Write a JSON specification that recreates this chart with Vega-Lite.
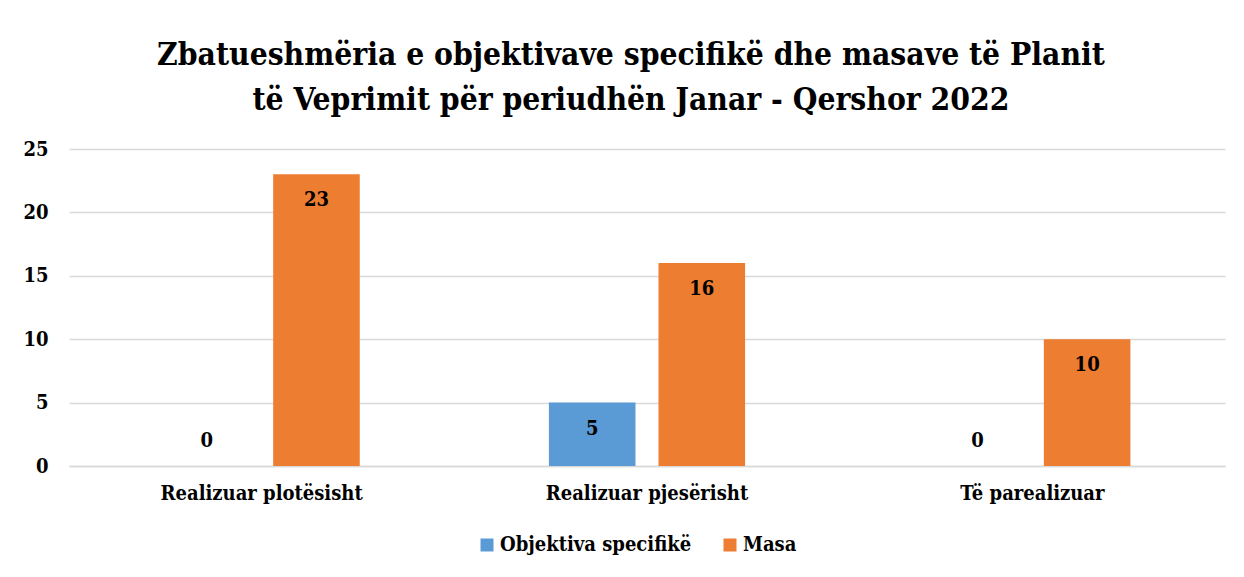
{
  "$schema": "https://vega.github.io/schema/vega-lite/v6.json",
  "width": 1156,
  "height": 317,
  "autosize": {"type": "none"},
  "padding": {"left": 69, "top": 149, "right": 19, "bottom": 111},
  "background": "white",
  "title": {
    "text": ["Zbatueshmëria e objektivave specifikë dhe masave të Planit", "të Veprimit për periudhën Janar - Qershor 2022"],
    "font": "DejaVu Serif Condensed, DejaVu Serif",
    "fontSize": 31.5,
    "fontWeight": "bold",
    "color": "#000000",
    "anchor": "middle",
    "lineHeight": 45,
    "offset": 23,
    "dx": -16
  },
  "data": {
    "values": [
      {"category": "Realizuar plotësisht", "series": "Objektiva specifikë", "value": 0},
      {"category": "Realizuar plotësisht", "series": "Masa", "value": 23},
      {"category": "Realizuar pjesërisht", "series": "Objektiva specifikë", "value": 5},
      {"category": "Realizuar pjesërisht", "series": "Masa", "value": 16},
      {"category": "Të parealizuar", "series": "Objektiva specifikë", "value": 0},
      {"category": "Të parealizuar", "series": "Masa", "value": 10}
    ]
  },
  "encoding": {
    "x": {
      "field": "category",
      "type": "nominal",
      "sort": ["Realizuar plotësisht", "Realizuar pjesërisht", "Të parealizuar"],
      "scale": {"paddingInner": 0, "paddingOuter": 0},
      "axis": {
        "title": null,
        "labelAngle": 0,
        "labelFont": "DejaVu Serif Condensed, DejaVu Serif",
        "labelFontSize": 20,
        "labelFontWeight": "bold",
        "labelColor": "#000000",
        "labelPadding": 17,
        "labelLimit": 400,
        "ticks": false,
        "domain": true,
        "domainColor": "#D9D9D9",
        "domainWidth": 1.5
      }
    },
    "xOffset": {
      "field": "series",
      "type": "nominal",
      "sort": ["Objektiva specifikë", "Masa"],
      "scale": {"paddingInner": 0.21, "paddingOuter": 0.863}
    },
    "y": {
      "field": "value",
      "type": "quantitative",
      "scale": {"domain": [0, 25]},
      "axis": {
        "title": null,
        "values": [0, 5, 10, 15, 20, 25],
        "labelFont": "DejaVu Serif Condensed, DejaVu Serif",
        "labelFontSize": 20,
        "labelFontWeight": "bold",
        "labelColor": "#000000",
        "labelPadding": 21,
        "ticks": false,
        "domain": false,
        "grid": true,
        "gridColor": "#D9D9D9",
        "gridWidth": 1.5
      }
    }
  },
  "layer": [
    {
      "mark": {"type": "bar"},
      "encoding": {
        "color": {
          "field": "series",
          "type": "nominal",
          "sort": ["Objektiva specifikë", "Masa"],
          "scale": {"domain": ["Objektiva specifikë", "Masa"], "range": ["#5B9BD5", "#ED7D31"]},
          "legend": {
            "title": null,
            "orient": "none",
            "legendX": 408,
            "legendY": 386,
            "direction": "horizontal",
            "symbolType": "square",
            "symbolSize": 169,
            "symbolStrokeWidth": 0,
            "labelFont": "DejaVu Serif Condensed, DejaVu Serif",
            "labelFontSize": 20,
            "labelFontWeight": "bold",
            "labelColor": "#000000",
            "labelLimit": 400,
            "labelOffset": 3,
            "columnPadding": 28
          }
        }
      }
    },
    {
      "transform": [{"filter": "datum.value > 0"}],
      "mark": {"type": "text", "font": "DejaVu Serif Condensed, DejaVu Serif", "fontSize": 20, "fontWeight": "bold", "color": "#000000", "baseline": "middle", "dy": 26},
      "encoding": {"text": {"field": "value", "type": "quantitative"}}
    },
    {
      "transform": [{"filter": "datum.value == 0"}],
      "mark": {"type": "text", "font": "DejaVu Serif Condensed, DejaVu Serif", "fontSize": 20, "fontWeight": "bold", "color": "#000000", "baseline": "middle", "dy": -25},
      "encoding": {"text": {"field": "value", "type": "quantitative"}}
    }
  ],
  "config": {"view": {"stroke": null}}
}
